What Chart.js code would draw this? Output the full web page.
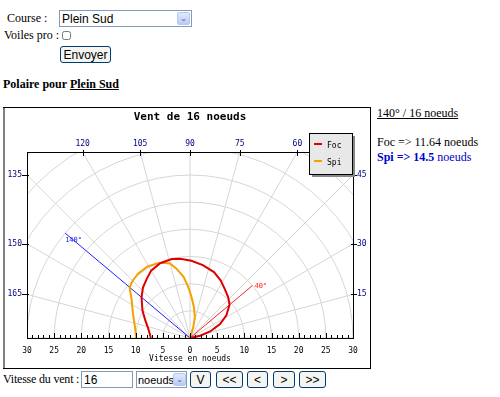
<!DOCTYPE html>
<html>
<head>
<meta charset="utf-8">
<script src="https://cdn.jsdelivr.net/npm/chart.js@4"></script>
<style>
body { margin: 0; background: #fff; font-family: "Liberation Serif", serif; font-size: 12px; color: #000; }
.t { position: absolute; line-height: 16px; white-space: nowrap; }
select, input, button { position: absolute; font-family: "Liberation Sans", Arial, sans-serif; font-size: 12px; margin: 0; box-sizing: border-box; }
select { border: 1px solid #7f9db9; background: #fff; padding: 0 2px; -webkit-appearance: none; appearance: none; border-radius: 0; }
.arrow { position: absolute; width: 13px; height: 13px; box-sizing: border-box; border: 1px solid #b8c8f0; border-radius: 2px;
    background: linear-gradient(#e0e8fc, #b8cbf4); color: #4d6185; font: 8px "DejaVu Sans", sans-serif; line-height: 11px; text-align: center; pointer-events: none; }
button { background: #f4f4f0; border: 1px solid #003c74; border-radius: 3px; padding: 0; }
input[type=text] { border: 1px solid #7f9db9; padding: 0 2px; }
#chart { position: absolute; left: 3px; top: 107px; }
</style>
</head>
<body>
<div class="t" style="left:7px;top:10px">Course :</div>
<select style="left:59px;top:10px;width:133px;height:17px"><option>Plein Sud</option></select>
<div class="arrow" style="left:177px;top:12px">&#8964;</div>
<div class="t" style="left:4px;top:27px">Voiles pro :</div>
<input type="checkbox" style="position:absolute;left:62px;top:31px;width:9px;height:9px;margin:0">
<button style="left:60px;top:46px;width:51px;height:17px">Envoyer</button>
<div class="t" style="left:3px;top:76px;font-weight:bold">Polaire pour <u>Plein Sud</u></div>

<canvas id="chart" width="368" height="262"></canvas>

<div class="t" style="left:377px;top:105px"><u>140° / 16 noeuds</u></div>
<div class="t" style="left:377px;top:134px">Foc =&gt; 11.64 noeuds</div>
<div class="t" style="left:377px;top:149px;color:#0000cc"><b>Spi =&gt; 14.5</b> noeuds</div>

<div class="t" style="left:3px;top:371px;letter-spacing:-0.2px">Vitesse du vent :</div>
<input type="text" value="16" style="left:81px;top:371px;width:52px;height:17px">
<select style="left:136px;top:371px;width:51px;height:17px;font-size:11px;padding:0 1px"><option>noeuds</option></select>
<div class="arrow" style="left:173px;top:373px">&#8964;</div>
<button style="left:190px;top:371px;width:21px;height:17px">V</button>
<button style="left:216px;top:371px;width:27px;height:17px">&lt;&lt;</button>
<button style="left:247px;top:371px;width:21px;height:17px">&lt;</button>
<button style="left:273px;top:371px;width:22px;height:17px">&gt;</button>
<button style="left:299px;top:371px;width:27px;height:17px">&gt;&gt;</button>

<script>
// polar data : angle to the wind (degrees) / boat speed (knots)
const FOC_ANGLES = [10, 13, 18, 25, 32, 40, 47, 55, 62, 70, 80, 89, 97, 103, 112, 120, 126, 133, 140, 150, 158, 167, 180];
const FOC_SPEEDS = [0, 1.9, 3.9, 6.1, 7.9, 9.5, 10.3, 11.1, 12.0, 12.9, 13.6, 14.2, 14.7, 14.9, 14.8, 14.3, 13.5, 12.7, 11.64, 10.1, 8.9, 7.9, 7.2];
const SPI_ANGLES = [70, 73, 77, 83, 88, 92, 96, 101, 105, 110, 114, 121, 129, 135, 140, 147, 157, 169, 180];
const SPI_SPEEDS = [0, 2.1, 4.0, 5.8, 7.6, 9.4, 11.3, 13.0, 14.2, 14.7, 15.0, 15.3, 15.2, 14.9, 14.5, 12.8, 11.4, 10.3, 9.9];

// reference lines drawn on the polar
const MARK_ANGLES = [40, 140];
const MARK_LENGTHS = [15, 30];
const MARK_LABELS = ['40°', '140°'];

const ANGLE_TICKS = [15, 30, 45, 60, 75, 90, 105, 120, 135, 150, 165];
const GRID_RADII = [5, 10, 15, 20, 25, 30, 35, 40, 45, 50];
const WIND_SPEED = 16;

const MONO = '"DejaVu Sans Mono", monospace';
const RAD = Math.PI / 180;

function toXY(angles, speeds) {
    return angles.map((a, i) => ({ x: speeds[i] * Math.cos(a * RAD), y: speeds[i] * Math.sin(a * RAD) }));
}

const polarPlugin = {
    id: 'polar',
    beforeDatasetsDraw(chart) {
        const ctx = chart.ctx;
        const area = chart.chartArea;
        const xs = chart.scales.x, ys = chart.scales.y;
        const ox = xs.getPixelForValue(0), oy = ys.getPixelForValue(0);
        const k = xs.getPixelForValue(1) - ox;
        ctx.save();
        ctx.beginPath();
        ctx.rect(area.left, area.top, area.right - area.left, area.bottom - area.top);
        ctx.clip();
        ctx.strokeStyle = '#d6d6d6';
        ctx.lineWidth = 1;
        GRID_RADII.forEach(r => {
            ctx.beginPath();
            ctx.arc(ox, oy, r * k, Math.PI, 2 * Math.PI);
            ctx.stroke();
        });
        for (let a = 0; a <= 180; a += 15) {
            ctx.beginPath();
            ctx.moveTo(ox, oy);
            ctx.lineTo(ox + 80 * k * Math.cos(a * RAD), oy - 80 * k * Math.sin(a * RAD));
            ctx.stroke();
        }
        ctx.restore();
    },
    afterDraw(chart) {
        const ctx = chart.ctx;
        const area = chart.chartArea;
        const xs = chart.scales.x, ys = chart.scales.y;
        const ox = xs.getPixelForValue(0), oy = ys.getPixelForValue(0);
        const k = xs.getPixelForValue(1) - ox;
        const W = chart.width, H = chart.height;
        ctx.save();

        // outer frame
        ctx.fillStyle = '#808080';
        ctx.fillRect(0, 0, 2, H);
        ctx.fillStyle = '#000';
        ctx.fillRect(0, 0, W, 1);
        ctx.fillRect(W - 1, 0, 1, H);
        ctx.fillRect(0, H - 1, W, 1);

        // plot frame
        ctx.strokeStyle = '#000';
        ctx.lineWidth = 1;
        ctx.strokeRect(Math.round(area.left) + 0.5, Math.round(area.top) + 0.5,
            Math.round(area.right - area.left), Math.round(area.bottom - area.top));

        // minor ticks on the speed axis
        ctx.beginPath();
        for (let v = -30; v <= 30; v++) {
            const px = Math.round(xs.getPixelForValue(v)) + 0.5;
            const len = v % 5 === 0 ? 5 : 3;
            ctx.moveTo(px, area.bottom);
            ctx.lineTo(px, area.bottom - len);
        }
        ctx.stroke();

        // angle labels where the rays leave the plot
        ctx.font = '8px ' + MONO;
        ctx.fillStyle = '#000080';
        ctx.strokeStyle = '#000';
        ANGLE_TICKS.forEach(a => {
            const c = Math.cos(a * RAD), s = Math.sin(a * RAD);
            let t = (oy - area.top) / s;
            let side = 'top';
            if (c < -1e-9 && (ox - area.left) / -c < t) { t = (ox - area.left) / -c; side = 'left'; }
            if (c > 1e-9 && (area.right - ox) / c < t) { t = (area.right - ox) / c; side = 'right'; }
            const px = ox + t * c, py = oy - t * s;
            ctx.beginPath();
            if (side === 'top') {
                ctx.moveTo(Math.round(px) + 0.5, area.top - 2);
                ctx.lineTo(Math.round(px) + 0.5, area.top + 4);
                ctx.stroke();
                ctx.textAlign = 'center';
                ctx.textBaseline = 'middle';
                ctx.fillText(String(a), px, area.top - 8);
            } else if (side === 'left') {
                ctx.moveTo(area.left - 5, Math.round(py) + 0.5);
                ctx.lineTo(area.left + 2, Math.round(py) + 0.5);
                ctx.stroke();
                ctx.textAlign = 'right';
                ctx.textBaseline = 'middle';
                ctx.fillText(String(a), area.left - 5, py);
            } else {
                ctx.moveTo(area.right - 2, Math.round(py) + 0.5);
                ctx.lineTo(area.right + 4, Math.round(py) + 0.5);
                ctx.stroke();
                ctx.textAlign = 'left';
                ctx.textBaseline = 'middle';
                ctx.fillText(String(a), area.right + 4, py);
            }
        });

        // labels at the end of the reference lines
        ctx.font = '7px ' + MONO;
        ctx.textAlign = 'left';
        ctx.textBaseline = 'middle';
        MARK_ANGLES.forEach((a, i) => {
            const ex = ox + MARK_LENGTHS[i] * k * Math.cos(a * RAD);
            const ey = oy - MARK_LENGTHS[i] * k * Math.sin(a * RAD);
            ctx.fillStyle = chart.data.datasets[2 + i].borderColor;
            if (a < 90) ctx.fillText(MARK_LABELS[i], ex + 2, ey + 1);
            else ctx.fillText(MARK_LABELS[i], ex, ey + 7);
        });

        // title
        ctx.fillStyle = '#000';
        ctx.font = 'bold 11px ' + MONO;
        ctx.textAlign = 'center';
        ctx.fillText('Vent de ' + WIND_SPEED + ' noeuds', ox, 10);

        // legend box
        const bx = Math.round(area.right) - 44, by = Math.round(area.top) - 19, bw = 43, bh = 41;
        ctx.fillStyle = '#888';
        ctx.fillRect(bx + 3, by + 3, bw, bh);
        ctx.fillStyle = '#e8e8e8';
        ctx.fillRect(bx, by, bw, bh);
        ctx.strokeStyle = '#000';
        ctx.strokeRect(bx + 0.5, by + 0.5, bw, bh);
        ctx.font = '8px ' + MONO;
        ctx.textAlign = 'left';
        chart.data.datasets.slice(0, 2).forEach((ds, i) => {
            const ly = by + 11 + i * 17;
            ctx.strokeStyle = ds.borderColor;
            ctx.lineWidth = 2;
            ctx.beginPath();
            ctx.moveTo(bx + 5, ly);
            ctx.lineTo(bx + 13, ly);
            ctx.stroke();
            ctx.fillStyle = '#000';
            ctx.fillText(ds.label, bx + 18, ly + 2);
        });
        ctx.restore();
    }
};

new Chart(document.getElementById('chart'), {
    type: 'scatter',
    data: {
        datasets: [
            { label: 'Foc', data: toXY(FOC_ANGLES, FOC_SPEEDS), showLine: true, borderColor: '#dd0000', borderWidth: 2, pointRadius: 0, tension: 0 },
            { label: 'Spi', data: toXY(SPI_ANGLES, SPI_SPEEDS), showLine: true, borderColor: '#f5a000', borderWidth: 2, pointRadius: 0, tension: 0 },
            { label: '40', data: toXY([MARK_ANGLES[0], MARK_ANGLES[0]], [0, MARK_LENGTHS[0]]), showLine: true, borderColor: '#ff2020', borderWidth: 1, pointRadius: 0 },
            { label: '140', data: toXY([MARK_ANGLES[1], MARK_ANGLES[1]], [0, MARK_LENGTHS[1]]), showLine: true, borderColor: '#2020ff', borderWidth: 1, pointRadius: 0 }
        ]
    },
    options: {
        responsive: false,
        animation: false,
        devicePixelRatio: 1,
        layout: { padding: { left: 24, top: 45, right: 18, bottom: 5 } },
        plugins: { legend: { display: false }, tooltip: { enabled: false } },
        scales: {
            x: {
                type: 'linear', min: -30, max: 30, position: 'bottom',
                grid: { display: false, drawTicks: false },
                border: { display: false },
                ticks: { stepSize: 5, autoSkip: false, maxRotation: 0, padding: 8, color: '#000',
                    font: { family: MONO, size: 8 }, callback: v => Math.abs(v) },
                title: { display: true, text: 'Vitesse en noeuds', color: '#000', padding: 0,
                    font: { family: MONO, size: 8 } },
                afterFit: s => { s.height = 26; }
            },
            y: { type: 'linear', min: 0, max: 34.2, display: false }
        }
    },
    plugins: [polarPlugin]
});
</script>
</body>
</html>
